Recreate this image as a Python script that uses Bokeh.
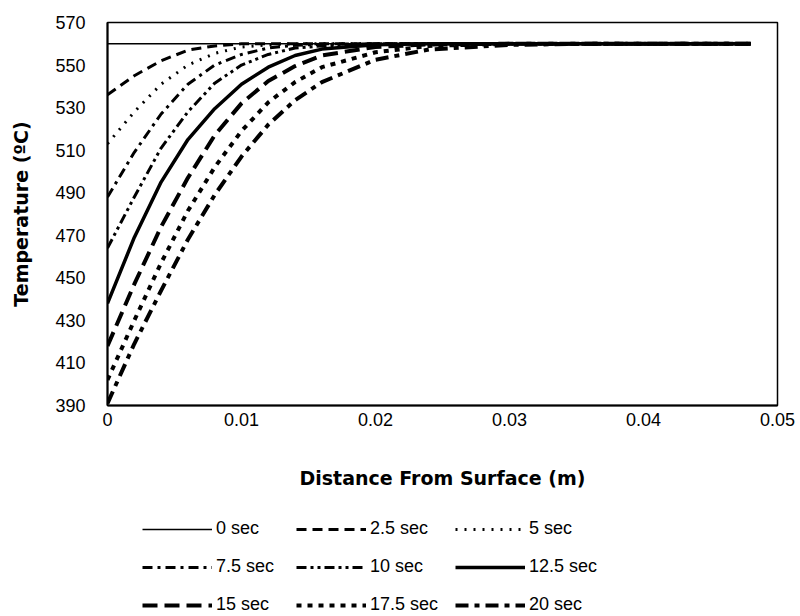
from bokeh.plotting import figure
from bokeh.layouts import column
from bokeh.models import Legend, LegendItem, FixedTicker, NumeralTickFormatter, Range1d
from bokeh.embed import file_html
from bokeh.resources import INLINE

# Distance from surface (m)
distance = [0, 0.002, 0.004, 0.006, 0.008, 0.010, 0.012, 0.014, 0.016, 0.020, 0.024, 0.030, 0.036, 0.042, 0.048]

# Temperature profiles (deg C) at each time
temp_0s = [560, 560, 560, 560, 560, 560, 560, 560, 560, 560, 560, 560, 560, 560, 560]
temp_2_5s = [536, 545, 552, 557, 559, 560, 560, 560, 560, 560, 560, 560, 560, 560, 560]
temp_5s = [513, 528, 541, 550, 555.5, 558.5, 559.5, 560, 560, 560, 560, 560, 560, 560, 560]
temp_7_5s = [488, 509, 527, 541, 550, 555, 558, 559.3, 559.8, 560, 560, 560, 560, 560, 560]
temp_10s = [464, 488, 511, 528, 541.5, 550, 555, 558, 559, 560, 560, 560, 560, 560, 560]
temp_12_5s = [438, 469, 495, 515, 529.5, 541, 549, 554.5, 557.5, 559.5, 560, 560, 560, 560, 560]
temp_15s = [418, 447, 474, 497, 517, 532, 542.5, 549.5, 554.5, 558.5, 559.7, 560, 560, 560, 560]
temp_17_5s = [402, 430, 457, 481.5, 502, 519, 532.5, 542, 549, 556, 559, 560, 560, 560, 560]
temp_20s = [391, 419, 444, 468, 489, 507, 522, 533.5, 542, 552.5, 557.3, 559.5, 560, 560, 560]

series_labels = ["0 sec", "2.5 sec", "5 sec", "7.5 sec", "10 sec", "12.5 sec", "15 sec", "17.5 sec", "20 sec"]
series_values = [temp_0s, temp_2_5s, temp_5s, temp_7_5s, temp_10s, temp_12_5s, temp_15s, temp_17_5s, temp_20s]

y_ticks = [390, 410, 430, 450, 470, 490, 510, 530, 550, 570]
x_ticks = [0, 0.01, 0.02, 0.03, 0.04, 0.05]

styles = [
    ("solid", 1.5),
    ("10 6", 3),
    ("2 7", 3),
    ("10 5 3 5", 3),
    ("10 4 3 4 3 4", 3),
    ("solid", 3.5),
    ("15 7", 4),
    ("5 6", 4),
    ("13 6 5 6", 4),
]

FONT = "Liberation Sans"
LABEL_FONT = "DejaVu Sans"

p = figure(width=800, height=500, output_backend="svg", toolbar_location=None,
           x_range=Range1d(0, 0.05), y_range=Range1d(390, 570),
           min_border_left=107, min_border_right=23, min_border_top=22, min_border_bottom=95)

p.xgrid.visible = False
p.ygrid.visible = False
p.outline_line_color = "black"
p.outline_line_width = 1.5
p.background_fill_color = "white"
p.border_fill_color = "white"

for ax in (p.xaxis[0], p.yaxis[0]):
    ax.axis_line_color = "black"
    ax.axis_line_width = 2
    ax.major_tick_out = 0
    ax.major_tick_in = 0
    ax.minor_tick_out = 0
    ax.minor_tick_in = 0
    ax.major_label_text_font = FONT
    ax.major_label_text_font_size = "18px"
    ax.major_label_text_color = "black"
    ax.axis_label_text_font = LABEL_FONT
    ax.axis_label_text_font_size = "19px"
    ax.axis_label_text_font_style = "bold"
    ax.axis_label_text_color = "black"

p.xaxis.ticker = FixedTicker(ticks=x_ticks)
p.xaxis.formatter = NumeralTickFormatter(format="0.[00]")
p.yaxis.ticker = FixedTicker(ticks=y_ticks)
p.xaxis.axis_label = "Distance From Surface (m)"
p.yaxis.axis_label = "Temperature (ºC)"
p.xaxis.major_label_standoff = 7
p.xaxis.axis_label_standoff = 38
p.yaxis.major_label_standoff = 22
p.yaxis.axis_label_standoff = 20

for vals, (dash, w) in zip(series_values, styles):
    p.line(distance, vals, line_color="black", line_width=w, line_dash=dash)

# Legend panel below the chart (series drawn off-range so only the legend shows)
q = figure(width=800, height=116, output_backend="svg", toolbar_location=None,
           x_range=Range1d(0, 1), y_range=Range1d(1000, 1001), min_border=0)
q.axis.visible = False
q.xgrid.visible = False
q.ygrid.visible = False
q.outline_line_color = None
q.border_fill_color = "white"

items = []
for label, vals, (dash, w) in zip(series_labels, series_values, styles):
    r = q.line(distance, vals, line_color="black", line_width=w, line_dash=dash)
    items.append(LegendItem(label=label, renderers=[r]))

legend = Legend(items=items, location=(35, 1), orientation="horizontal", ncols=3,
                glyph_width=70, glyph_height=20, label_height=20, label_standoff=4, label_width=63,
                spacing=17, padding=0, margin=0,
                label_text_font=FONT, label_text_font_size="18px", label_text_color="black",
                border_line_color=None, background_fill_alpha=0)
q.add_layout(legend)

layout = column(p, q, spacing=0)
open("out.html", "w").write(file_html(layout, INLINE))
